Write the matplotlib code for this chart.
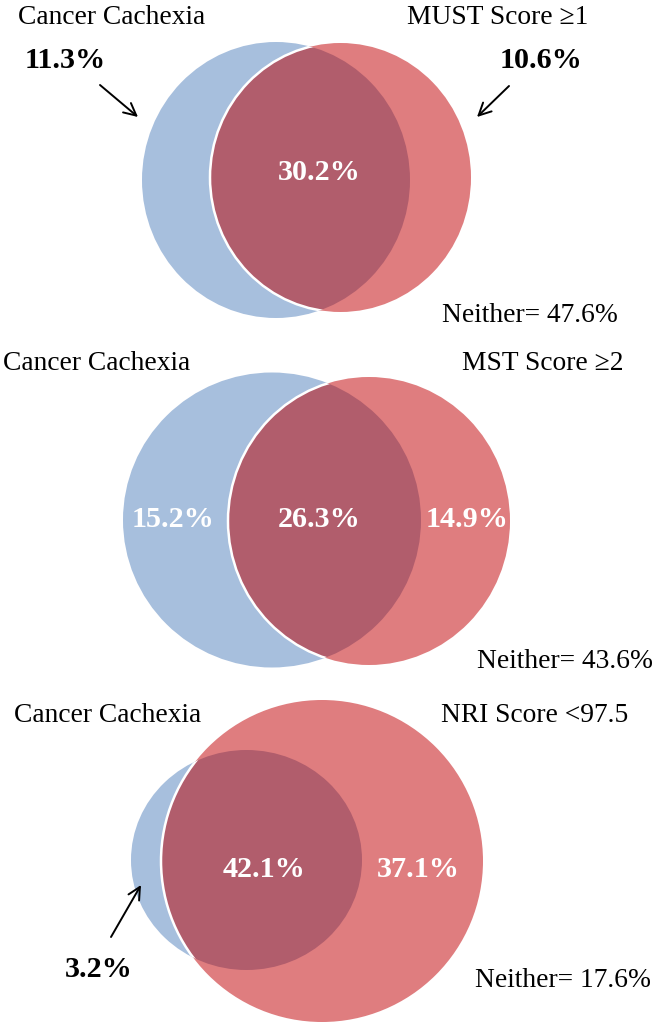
import matplotlib
matplotlib.use("Agg")
import matplotlib.pyplot as plt
from matplotlib.patches import Ellipse

plt.rcParams['font.family'] = ['Liberation Serif', 'DejaVu Serif']

# ---- data ----
left_labels = ["Cancer Cachexia", "Cancer Cachexia", "Cancer Cachexia"]
right_labels = ["MUST Score \u22651", "MST Score \u22652", "NRI Score <97.5"]
left_only = [11.3, 15.2, 3.2]
both = [30.2, 26.3, 42.1]
right_only = [10.6, 14.9, 37.1]
neither = [47.6, 43.6, 17.6]

# ---- layout (pixel coordinates, y downward) ----
blue_geom = [((276, 180), 268, 276), ((272, 520), 298, 295), ((246.5, 860), 231, 220)]
red_geom = [((340.5, 177.5), 261, 269), ((369, 521), 282, 288), ((322, 861), 322, 322)]
title_base = [24, 370, 722]
left_title_x = [112, 97, 108]
right_title_x = [498, 543, 535]
neither_pos = [(530, 322), (565, 668), (563, 987)]
both_pos = [(319, 180), (319, 527), (264, 877)]
# (x, baseline, inside?) for left-only / right-only labels
left_pos = [(65, 68, False), (173, 527, True), (99, 977, False)]
right_pos = [(541, 68, False), (467, 527, True), (418, 877, True)]
arrows = [[((100, 85), (138, 117)), ((509, 86), (477, 117))],
          [],
          [((111, 937), (141, 885))]]

BLUE = "#A7BFDD"
RED = "#DF7D7F"
DARK = "#B15D6C"

W, H = 655, 1029
fig = plt.figure(figsize=(W / 100, H / 100), dpi=100)
ax = fig.add_axes([0, 0, 1, 1])
ax.set_xlim(0, W)
ax.set_ylim(H, 0)
ax.axis("off")

LBL = 19.8
NUM = 21.7

for i in range(3):
    (bc, bw, bh) = blue_geom[i]
    (rc, rw, rh) = red_geom[i]
    blue = Ellipse(bc, bw, bh, facecolor=BLUE, edgecolor="none", zorder=1)
    ax.add_patch(blue)
    red = Ellipse(rc, rw, rh, facecolor=RED, edgecolor="none", zorder=2)
    ax.add_patch(red)
    dark = Ellipse(bc, bw, bh, facecolor=DARK, edgecolor="none", zorder=3)
    ax.add_patch(dark)
    dark.set_clip_path(red)
    outline = Ellipse(rc, rw, rh, facecolor="none", edgecolor="white", lw=1.8, zorder=4)
    ax.add_patch(outline)
    clipb = Ellipse(bc, bw, bh, facecolor="none", edgecolor="none")
    ax.add_patch(clipb)
    outline.set_clip_path(clipb)

    ax.text(left_title_x[i], title_base[i], left_labels[i], ha="center", va="baseline",
            fontsize=LBL, color="black", zorder=5)
    ax.text(right_title_x[i], title_base[i], right_labels[i], ha="center", va="baseline",
            fontsize=LBL, color="black", zorder=5)
    ax.text(neither_pos[i][0], neither_pos[i][1], f"Neither= {neither[i]:.1f}%",
            ha="center", va="baseline", fontsize=LBL, color="black", zorder=5)
    ax.text(both_pos[i][0], both_pos[i][1], f"{both[i]:.1f}%", ha="center", va="baseline",
            fontsize=NUM, fontweight="bold", color="white", zorder=5)
    for val, (x, y, inside) in ((left_only[i], left_pos[i]), (right_only[i], right_pos[i])):
        ax.text(x, y, f"{val:.1f}%", ha="center", va="baseline", fontsize=NUM,
                fontweight="bold", color="white" if inside else "black", zorder=5)
    for (p0, p1) in arrows[i]:
        ax.annotate("", xy=p1, xytext=p0,
                    arrowprops=dict(arrowstyle="->", color="black", lw=1.4,
                                    mutation_scale=22, shrinkA=0, shrinkB=0),
                    zorder=5)

fig.savefig("out.png", dpi=100)
